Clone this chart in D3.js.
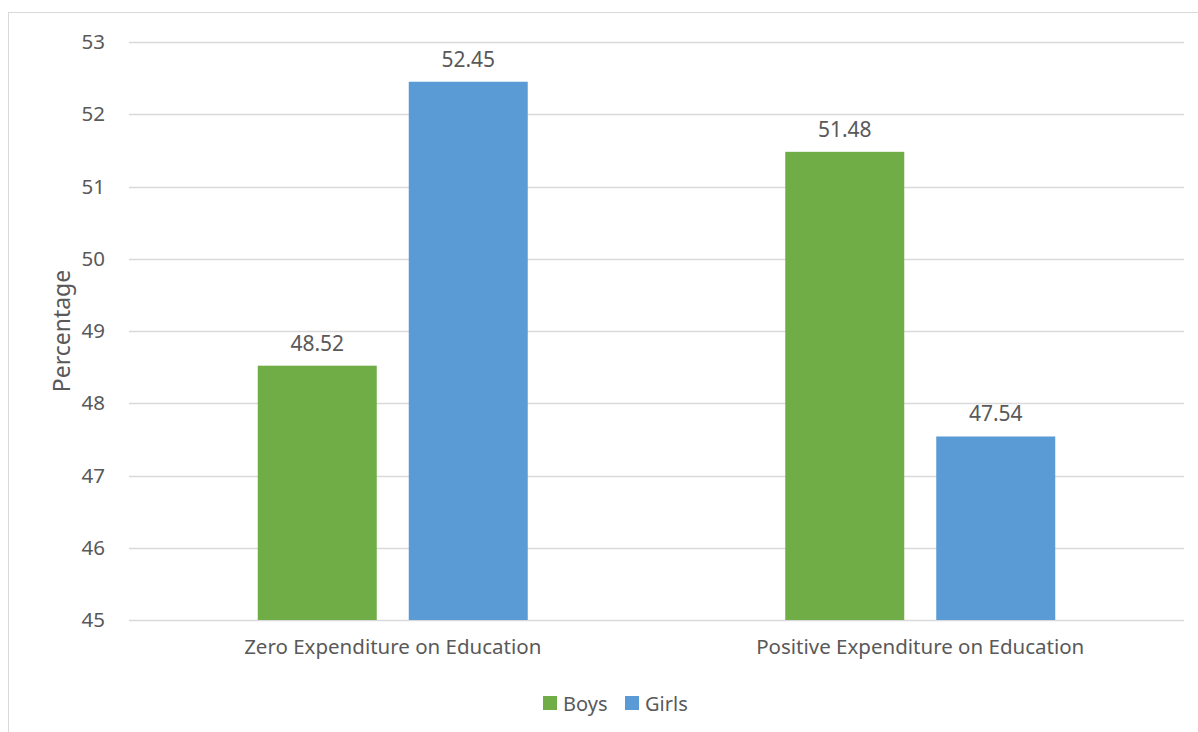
<!DOCTYPE html>
<html>
<head>
<meta charset="utf-8">
<script src="https://cdn.jsdelivr.net/npm/d3@7"></script>
<style>
  body { margin: 0; background: #fff; }
  text { font-family: "Noto Sans", "Open Sans", sans-serif; fill: #595959; }
</style>
</head>
<body>
<div id="chart"></div>
<script>
// データ
var categories = ["Zero Expenditure on Education", "Positive Expenditure on Education"];
var seriesNames = ["Boys", "Girls"];
var boys = [48.52, 51.48];
var girls = [52.45, 47.54];
var yTicks = [45, 46, 47, 48, 49, 50, 51, 52, 53];
var colors = {Boys: "#70ad47", Girls: "#5b9bd5"};

var W = 1198, H = 732;
var margin = {top: 42, right: 14, bottom: 112, left: 129};
var width = 1184 - margin.left,
    height = 620 - margin.top;

var svg = d3.select("#chart").append("svg")
  .attr("width", W)
  .attr("height", H);

// 外枠
svg.append("rect")
  .attr("x", 8.5).attr("y", 12.5)
  .attr("width", W).attr("height", H)
  .attr("fill", "none").attr("stroke", "#d9d9d9").attr("stroke-width", 1);

var g = svg.append("g")
  .attr("transform", "translate(" + margin.left + "," + margin.top + ")");

var x0 = d3.scaleBand().domain(categories).range([0, width]).paddingInner(0).paddingOuter(0);
var x1 = d3.scaleBand().domain(seriesNames).range([128.75, 128.75 + 270]).paddingInner(32 / 151);
var y = d3.scaleLinear().domain([45, 53]).range([height, 0]);

// グリッド線
g.append("g").selectAll("line")
  .data(yTicks)
  .join("line")
  .attr("x1", 0).attr("x2", width)
  .attr("y1", d => Math.round(y(d)) + 0.5).attr("y2", d => Math.round(y(d)) + 0.5)
  .attr("stroke", "#d9d9d9").attr("stroke-width", 1.3);

// 縦軸
var yAxis = d3.axisLeft(y).tickValues(yTicks).tickSize(0).tickPadding(24).tickFormat(d3.format("d"));
g.append("g").call(yAxis)
  .call(s => s.select(".domain").remove())
  .selectAll("text")
  .style("font-size", "20.5px")
  .attr("fill", "#595959");

// 横軸
var xAxis = d3.axisBottom(x0).tickSize(0).tickPadding(19);
g.append("g")
  .attr("transform", "translate(0," + height + ")")
  .call(xAxis)
  .call(s => s.select(".domain").remove())
  .selectAll("text")
  .style("font-size", "20.5px")
  .attr("fill", "#595959");

// 棒
var rows = categories.map((c, i) => ({cat: c, values: [
  {name: "Boys", value: boys[i]},
  {name: "Girls", value: girls[i]}
]}));

var groups = g.selectAll("g.grp")
  .data(rows)
  .join("g")
  .attr("class", "grp")
  .attr("transform", d => "translate(" + x0(d.cat) + ",0)");

groups.selectAll("rect")
  .data(d => d.values)
  .join("rect")
  .attr("x", d => x1(d.name))
  .attr("width", x1.bandwidth())
  .attr("y", d => y(d.value))
  .attr("height", d => height - y(d.value))
  .attr("fill", d => colors[d.name]);

// データラベル
groups.selectAll("text.lbl")
  .data(d => d.values)
  .join("text")
  .attr("class", "lbl")
  .attr("x", d => x1(d.name) + x1.bandwidth() / 2)
  .attr("y", d => y(d.value) - 15)
  .attr("text-anchor", "middle")
  .style("font-size", "21px")
  .text(d => d3.format(".2f")(d.value));

// 縦軸タイトル
svg.append("text")
  .attr("transform", "translate(70," + (margin.top + height / 2) + ") rotate(-90)")
  .attr("text-anchor", "middle")
  .style("font-size", "23px")
  .text("Percentage");

// 凡例
var legend = svg.append("g").attr("transform", "translate(543,696)");
var lx = [0, 82];
seriesNames.forEach(function(n, i) {
  legend.append("rect")
    .attr("x", lx[i]).attr("y", 0)
    .attr("width", 14).attr("height", 14)
    .attr("fill", colors[n]);
  legend.append("text")
    .attr("x", lx[i] + 20).attr("y", 15)
    .style("font-size", "20px")
    .text(n);
});
</script>
</body>
</html>
